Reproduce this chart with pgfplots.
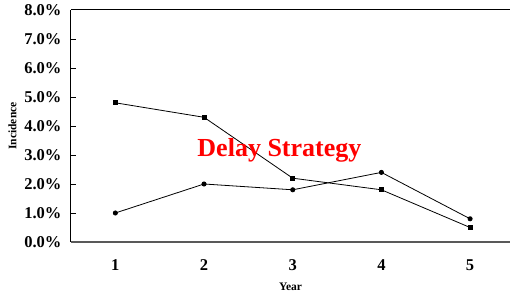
\documentclass[border=0pt]{standalone}
\usepackage{fontspec}
\setmainfont{Liberation Serif}
\usepackage{pgfplots}
\pgfplotsset{compat=1.18}
\begin{document}
\begin{tikzpicture}
\begin{axis}[
  scale only axis,
  width=439bp, height=232bp,
  xmin=0.5, xmax=5.45,
  ymin=0, ymax=8,
  xtick={1,2,3,4,5},
  ytick={0,1,2,3,4,5,6,7,8},
  axis x line*=bottom,
  axis y line*=left,
  x axis line style={black!65, line width=1.3bp},
  y axis line style={black, line width=1bp},
  /pgf/number format/assume math mode=true,
  yticklabel={\pgfmathprintnumber[fixed,fixed zerofill,precision=1]{\tick}\%},
  ticklabel style={font=\fontsize{16.5bp}{18bp}\selectfont\bfseries},
  yticklabel style={xshift=-6bp},
  xticklabel style={yshift=-14bp},
  major tick length=0pt,
  xlabel={Year},
  ylabel={Incidence},
  label style={font=\fontsize{11.5bp}{13bp}\selectfont\bfseries},
  xlabel style={yshift=-6bp},
  ylabel style={yshift=1bp},
  clip=false,
]
\addplot[black, line width=0.8bp, mark=square*, mark size=2bp] coordinates {(1,4.8) (2,4.3) (3,2.2) (4,1.8) (5,0.5)};
\addplot[black, line width=0.8bp, mark=*, mark size=2.1bp] coordinates {(1,1.0) (2,2.0) (3,1.8) (4,2.4) (5,0.8)};
\pgfplotsinvokeforeach{1,2,3,4,5,6,7}{\addplot[black, line width=0.8bp, forget plot] coordinates {(0.5,#1) (0.56,#1)};}
\addplot[black, line width=1bp, forget plot] coordinates {(0.5,8) (5.45,8)};
\node[text=red, font=\fontsize{26bp}{28bp}\selectfont\bfseries] at (axis cs:2.85,3.17) {Delay Strategy};
\end{axis}
\pgfresetboundingbox
\path (current axis.south west) ++(-71bp,-55bp) coordinate (bl);
\path (current axis.north east) ++(0bp,10bp) coordinate (tr);
\path[use as bounding box] (bl) rectangle (tr);
\end{tikzpicture}
\end{document}
